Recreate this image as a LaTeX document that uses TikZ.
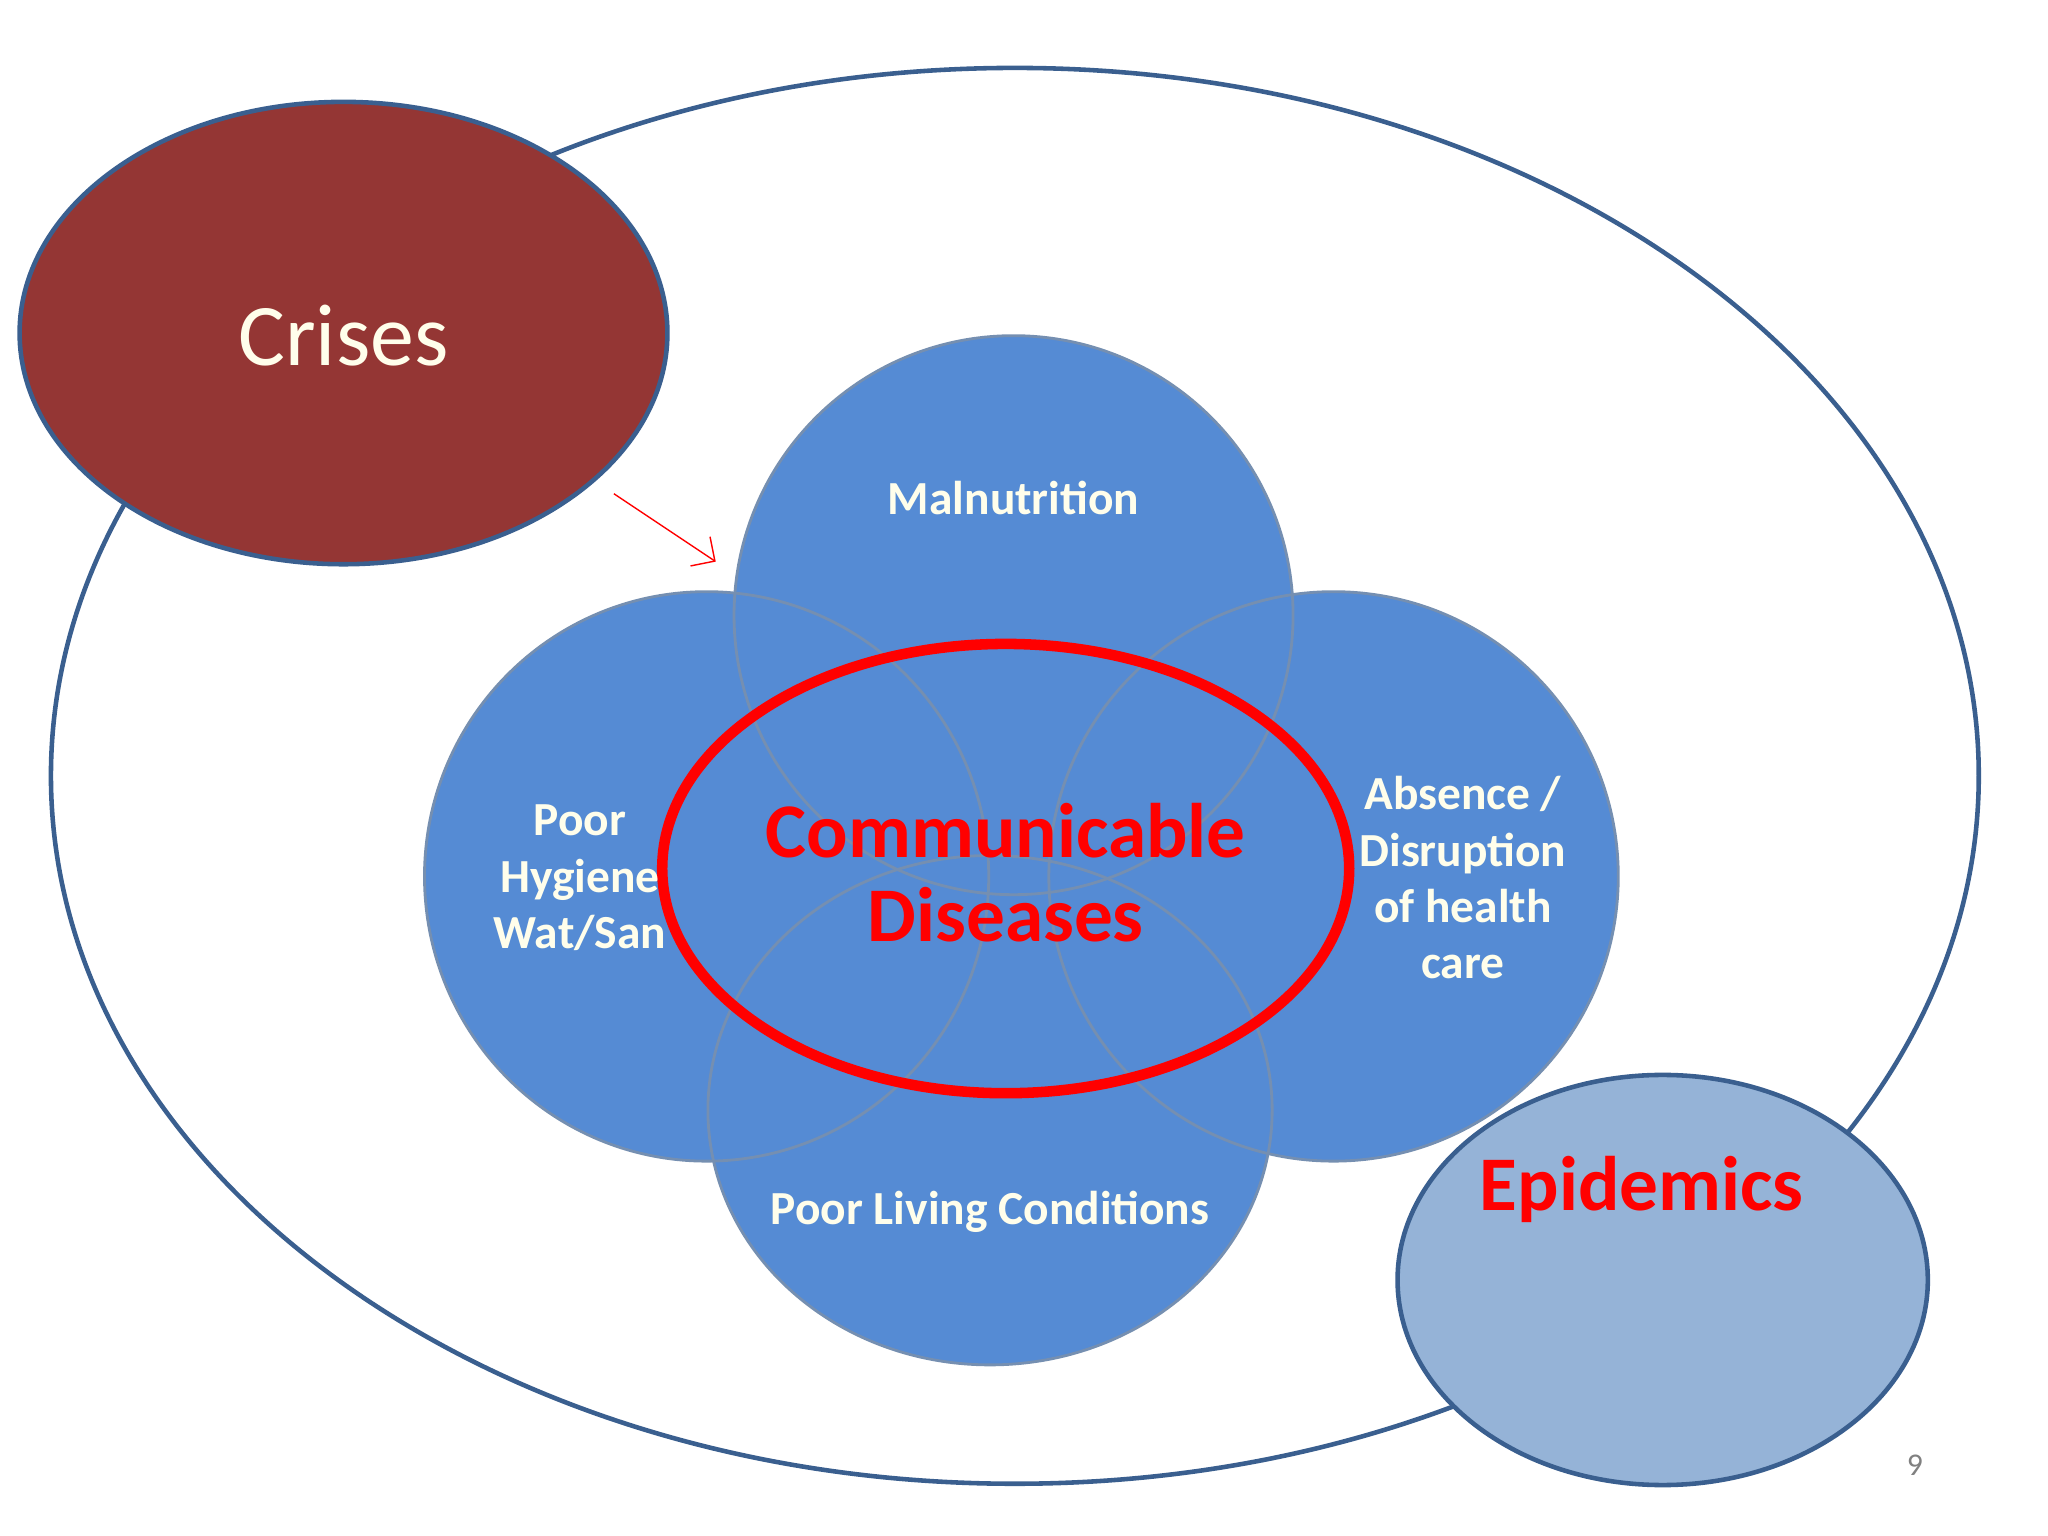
\documentclass[tikz,border=0pt]{standalone}
\usepackage{fontspec}
\setmainfont{Carlito}
\usetikzlibrary{arrows.meta}
\definecolor{circblue}{HTML}{558BD4}
\definecolor{edgeblue}{HTML}{3A5F8F}
\definecolor{crisred}{HTML}{943634}
\definecolor{epiblue}{HTML}{95B3D7}
\tikzset{
  factor/.style={fill=circblue},
  factoredge/.style={draw=edgeblue!70, line width=0.8pt},
  factortext/.style={text=white!92!yellow, font=\bfseries\fontsize{13.5}{16}\selectfont, align=center},
  redtext/.style={text=red, font=\bfseries\fontsize{22}{24}\selectfont, align=center}
}
\begin{document}
\begin{tikzpicture}[x=0.013061cm, y=-0.013061cm]
      \useasboundingbox (0,0) rectangle (1568,1176);
      % outer setting
      \draw[edgeblue, line width=1.3pt, fill=white] (777,594) ellipse [x radius=738, y radius=542];
      % the four factors
      \fill[factor] (776,471) ellipse [x radius=214, y radius=214];
      \fill[factor] (541,671) ellipse [x radius=216, y radius=218];
      \fill[factor] (1021,671) ellipse [x radius=218, y radius=218];
      \fill[factor] (758,850) ellipse [x radius=216, y radius=195];
      \draw[factoredge] (776,471) ellipse [x radius=214, y radius=214];
      \draw[factoredge] (541,671) ellipse [x radius=216, y radius=218];
      \draw[factoredge] (1021,671) ellipse [x radius=218, y radius=218];
      \draw[factoredge] (758,850) ellipse [x radius=216, y radius=195];
      \draw[red, line width=3pt] (770,665) ellipse [x radius=263, y radius=172];

      \draw[edgeblue, line width=1.3pt, fill=crisred] (263,255) ellipse [x radius=248, y radius=177];
      \draw[edgeblue, line width=1.3pt, fill=epiblue] (1273,980) ellipse [x radius=203, y radius=157];

      \node[text=white!92!yellow, font=\fontsize{25}{28}\selectfont] (crises) at (263,257) {Crises};
      \node[factortext] (maln) at (776,381) {Malnutrition};
      \node[factortext] (hyg) at (444,672) {Poor\\Hygiene\\Wat/San};
      \node[factortext] (abs) at (1120,672) {Absence /\\Disruption\\of health\\care};
      \node[factortext] (living) at (758,928) {Poor Living Conditions};
      \node[redtext] (comm) at (770,668) {Communicable\\Diseases};
      \node[redtext] (epi) at (1257,911) {Epidemics};
      \node[text=gray, font=\fontsize{9}{10}\selectfont] (page) at (1466,1122) {9};

      \coordinate (arrA) at (470,378);
      \coordinate (arrB) at (548,430);
      \draw[red, -{Straight Barb[length=5pt]}] (arrA) -- (arrB);
    \end{tikzpicture}
\end{document}
